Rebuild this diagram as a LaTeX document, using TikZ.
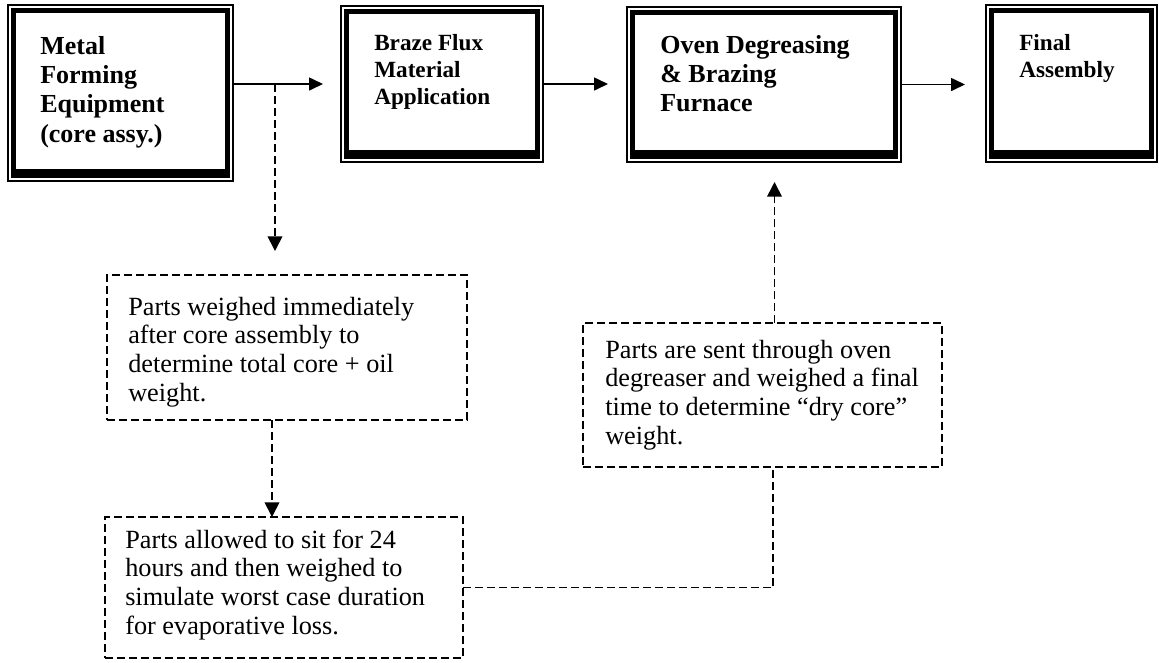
\documentclass[tikz,border=0pt]{standalone}
\usepackage{fontspec}
\setmainfont{Liberation Serif}
\usetikzlibrary{arrows.meta,calc}
\newcommand\dblframe[1]{%
  \draw[line width=4.1pt] ($(#1.north west)+(5.7,5.7)$) rectangle ($(#1.south east)+(-5.7,-5.7)$);
  \draw[line width=6.5pt] ($(#1.south west)+(5.7,-7.3)$) -- ($(#1.south east)+(-5.7,-7.3)$);
}
\newcommand\lines[1]{\begin{tabular}[t]{@{}l@{}}#1\end{tabular}}
\begin{document}
\begin{tikzpicture}[x=0.75pt,y=-0.75pt,
  wh/.style 2 args={minimum width=#1*0.75pt, minimum height=#2*0.75pt},
  procbox/.style={draw, line width=0.85pt, inner sep=0pt, outer sep=0pt},
  notebox/.style={draw, line width=1.2pt, dash pattern=on 6pt off 3pt, inner sep=0pt, outer sep=0pt},
  bigbold/.style={inner sep=0pt, anchor=base west, font=\fontsize{19.5pt}{22.1pt}\selectfont\bfseries},
  smallbold/.style={inner sep=0pt, anchor=base west, font=\fontsize{17.4pt}{20.4pt}\selectfont\bfseries},
  smallbold4/.style={inner sep=0pt, anchor=base west, font=\fontsize{17.4pt}{20.8pt}\selectfont\bfseries},
  notetxt/.style={inner sep=0pt, anchor=base west, font=\fontsize{19.7pt}{21.5pt}\selectfont},
  arr/.style={line width=1.2pt, -{Triangle[length=10.5pt,width=9.75pt]}},
  dline/.style={line width=1.25pt, dash pattern=on 6pt off 3pt},
  darr/.style={dline, -{Triangle[length=11pt,width=11pt]}}
]
\useasboundingbox (0,0) rectangle (1159,662);

% process boxes
\node[procbox, wh={225}{176}] (b1) at (120.5,93) {};
\node[procbox, wh={202}{156}] (b2) at (442,84) {};
\node[procbox, wh={274}{155}] (b3) at (764,84.5) {};
\node[procbox, wh={171}{157}] (b4) at (1071.5,83.5) {};
\dblframe{b1}
\dblframe{b2}
\dblframe{b3}
\dblframe{b4}

\node[bigbold] (t1) at (40,54) {\lines{Metal\\Forming\\Equipment\\(core assy.)}};
\node[smallbold] (t2) at (374,50) {\lines{Braze Flux\\Material\\Application}};
\node[bigbold] (t3) at (660,53) {\lines{Oven Degreasing\\\& Brazing\\Furnace}};
\node[smallbold4] (t4) at (1019,50) {\lines{Final\\Assembly}};

% note boxes
\node[notebox, wh={360}{145}] (dA) at (287,347.5) {};
\node[notebox, wh={358}{141}] (dB) at (284,587.5) {};
\node[notebox, wh={359}{144}] (dC) at (762.5,395) {};

\node[notetxt] (tA) at (128,315) {\lines{Parts weighed immediately\\after core assembly to\\determine total core + oil\\weight.}};
\node[notetxt] (tB) at (125,548) {\lines{Parts allowed to sit for 24\\hours and then weighed to\\simulate worst case duration\\for evaporative loss.}};
\node[notetxt] (tC) at (605,358) {\lines{Parts are sent through oven\\degreaser and weighed a final\\time to determine “dry core”\\weight.}};

% solid flow
\draw[arr, shorten >=13.5pt] (b1.east |- b2.west) -- (b2.west);
\draw[arr, shorten >=14.25pt] (b2.east) -- (b3.west |- b2.east);
\draw[arr, shorten >=15.75pt] (b3.east) -- (b4.west |- b3.east);

% dashed flow
\coordinate (j) at ($(b1.east |- b2.west)+(42,0)$);
\draw[darr, shorten >=18pt] (j) -- (j |- dA.north);
\coordinate (a1) at ($(dA.south)+(-15,0)$);
\draw[darr] (a1) -- (a1 |- dB.north);
\coordinate (c1) at ($(dC.south)+(10.5,0)$);
\draw[dline] (dB.east) -| (c1);
\coordinate (c2) at ($(dC.north)+(12,0)$);
\draw[darr, shorten >=15pt] (c2) -- (c2 |- b3.south);
\end{tikzpicture}
\end{document}
